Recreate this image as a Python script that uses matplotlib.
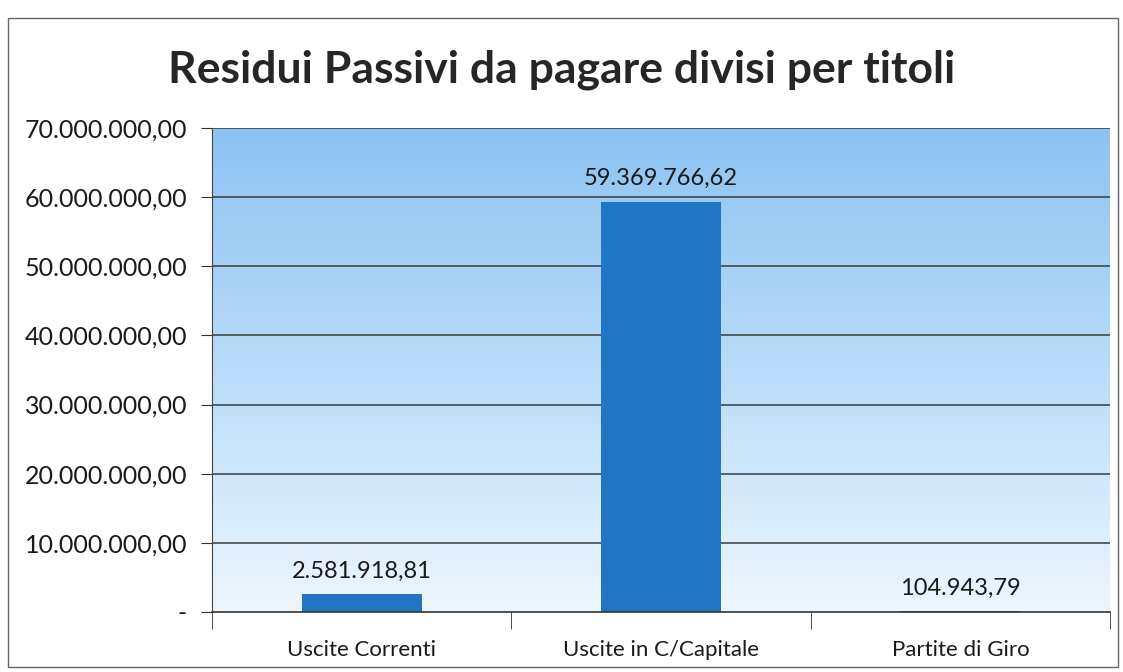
import matplotlib
matplotlib.use("Agg")
import matplotlib.pyplot as plt
import numpy as np
from matplotlib.patches import Rectangle
from matplotlib.colors import LinearSegmentedColormap

categories = ["Uscite Correnti", "Uscite in C/Capitale", "Partite di Giro"]
values = [2581918.81, 59369766.62, 104943.79]
value_labels = ["2.581.918,81", "59.369.766,62", "104.943,79"]
yticks = [0, 10000000, 20000000, 30000000, 40000000, 50000000, 60000000, 70000000]
ytick_labels = ["-", "10.000.000,00", "20.000.000,00", "30.000.000,00",
                "40.000.000,00", "50.000.000,00", "60.000.000,00", "70.000.000,00"]
title = "Residui Passivi da pagare divisi per titoli"

plt.rcParams['font.family'] = ['Lato', 'DejaVu Sans']

fig = plt.figure(figsize=(11.23, 6.72), dpi=100)
fig.patch.set_facecolor("white")

# outer frame
fig.patches.append(Rectangle((8/1123, 1-667/672), (1118-8)/1123, (667-18)/672,
                             transform=fig.transFigure, fill=False,
                             edgecolor="#666666", linewidth=1.0))

ax = fig.add_axes([212/1123, 1-612/672, (1110-212)/1123, (612-128)/672])

x = np.arange(len(categories))
ax.set_xlim(-0.5, len(categories)-0.5)
ax.set_ylim(0, 70000000)

# gradient background
cmap = LinearSegmentedColormap.from_list("bg", ["#eef6fd", "#b9dcf8", "#8cc3f2"])
grad = np.linspace(0, 1, 256).reshape(-1, 1)
ax.imshow(grad, cmap=cmap, origin="lower", aspect="auto",
          extent=(-0.5, len(categories)-0.5, 0, 70000000), zorder=0)

for yv in yticks[1:]:
    ax.axhline(yv, color="#3a3a3a", linewidth=1.1, zorder=1)

ax.bar(x, values, width=0.4, color="#2275c5", zorder=2)

for xi, v, lab in zip(x, values, value_labels):
    ax.text(xi, v + 1800000, lab, ha="center", va="bottom", fontsize=17, color="#1a1a1a", zorder=3)

ax.set_yticks(yticks)
ax.set_yticklabels(ytick_labels, fontsize=18, color="#1a1a1a")
ax.set_xticks(x)
ax.set_xticklabels(categories, fontsize=16, color="#1a1a1a")
ax.tick_params(axis="x", length=0, pad=20)
ax.set_xticks([-0.5, 0.5, 1.5, 2.5], minor=True)
ax.tick_params(axis="x", which="minor", length=12, direction="out", color="#333333")
ax.tick_params(axis="y", length=8, direction="out", color="#333333", pad=10)

for s in ["top", "right"]:
    ax.spines[s].set_visible(False)
ax.spines["left"].set_color("#444444")
ax.spines["bottom"].set_color("#333333")
ax.spines["bottom"].set_linewidth(1.2)
ax.spines["left"].set_linewidth(0.8)

fig.text(0.5, 1-70/672, title, ha="center", va="center", fontsize=32,
         fontweight="bold", color="#262626")

fig.savefig("out.png", dpi=100)
